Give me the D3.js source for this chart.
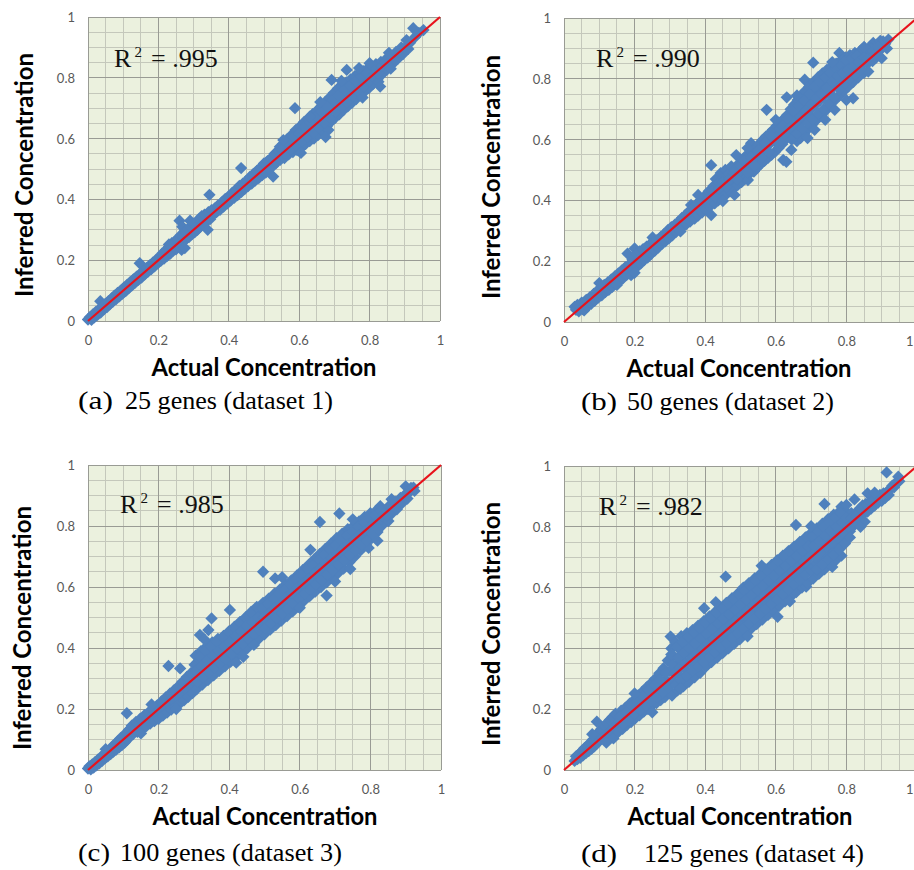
<!DOCTYPE html>
<html><head><meta charset="utf-8">
<script src="https://cdn.jsdelivr.net/npm/d3@7"></script>
<style>html,body{margin:0;padding:0;background:#fff;}svg{display:block;}</style>
</head><body>
<svg id="chart" width="914" height="870"></svg>
<script>
// ---------- DATA ----------
const axisTicks = [0, 0.2, 0.4, 0.6, 0.8, 1];
const tickLabels = ["0", "0.2", "0.4", "0.6", "0.8", "1"];
const r2Values = [".995", ".990", ".985", ".982"];
const panelLetters = ["(a)", "(b)", "(c)", "(d)"];
const captions = ["25 genes (dataset 1)", "50 genes (dataset 2)", "100 genes (dataset 3)", "125 genes (dataset 4)"];
const xTitle = "Actual Concentration";
const yTitle = "Inferred Concentration";

// [actual, inferred]
const dataA = [[0,0.005],[0.005,0.012],[0.01,0.004],[0.014,0.022],[0.018,0.012],[0.022,0.03],[0.027,0.02],[0.031,0.038],[0.035,0.065],[0.036,0.028],[0.04,0.047],[0.045,0.038],[0.049,0.056],[0.054,0.046],[0.058,0.065],[0.062,0.055],[0.067,0.074],[0.071,0.064],[0.075,0.083],[0.08,0.072],[0.084,0.092],[0.089,0.081],[0.093,0.1],[0.098,0.09],[0.102,0.11],[0.107,0.098],[0.111,0.119],[0.116,0.108],[0.12,0.128],[0.125,0.117],[0.129,0.137],[0.134,0.126],[0.138,0.146],[0.143,0.135],[0.147,0.19],[0.148,0.155],[0.152,0.143],[0.157,0.165],[0.161,0.153],[0.166,0.174],[0.17,0.162],[0.175,0.183],[0.18,0.171],[0.184,0.192],[0.189,0.18],[0.193,0.201],[0.198,0.19],[0.202,0.21],
[0.207,0.198],[0.211,0.222],[0.216,0.205],[0.22,0.232],[0.225,0.214],[0.23,0.244],[0.234,0.222],[0.238,0.256],[0.242,0.232],[0.246,0.262],[0.25,0.236],[0.254,0.27],[0.258,0.245],[0.26,0.33],[0.263,0.282],[0.266,0.234],[0.268,0.31],[0.272,0.262],[0.275,0.295],[0.279,0.27],[0.283,0.302],[0.287,0.276],[0.291,0.31],[0.295,0.285],[0.299,0.32],[0.303,0.292],[0.307,0.326],[0.311,0.3],[0.315,0.334],[0.319,0.31],[0.323,0.345],[0.327,0.318],[0.331,0.35],[0.335,0.325],[0.34,0.3],[0.342,0.358],[0.345,0.415],[0.347,0.335],[0.351,0.365],
[0.355,0.348],[0.36,0.37],[0.365,0.358],[0.37,0.381],[0.375,0.366],[0.38,0.39],[0.385,0.376],[0.39,0.402],[0.395,0.386],[0.4,0.41],[0.405,0.396],[0.41,0.422],[0.415,0.405],[0.42,0.432],[0.425,0.414],[0.43,0.444],[0.435,0.503],[0.436,0.425],[0.44,0.452],[0.445,0.434],[0.45,0.462],[0.455,0.444],[0.46,0.474],[0.465,0.452],[0.47,0.484],[0.475,0.462],[0.48,0.494],[0.485,0.47],[0.49,0.505],[0.495,0.48],[0.5,0.518],[0.505,0.488],[0.51,0.526],[0.515,0.5],[0.52,0.536],[0.526,0.475],[0.526,0.51],[0.53,0.55],[0.535,0.52],[0.54,0.56],[0.545,0.573],[0.546,0.53],
[0.55,0.548],[0.554,0.582],[0.558,0.536],[0.562,0.566],[0.566,0.598],[0.57,0.548],[0.574,0.58],[0.578,0.612],[0.582,0.556],[0.586,0.59],[0.588,0.7],[0.59,0.628],[0.594,0.562],[0.598,0.6],[0.602,0.64],[0.606,0.57],[0.61,0.61],[0.614,0.655],[0.618,0.582],[0.622,0.624],[0.626,0.665],[0.63,0.592],[0.634,0.636],[0.638,0.68],[0.642,0.6],[0.646,0.65],[0.65,0.692],[0.654,0.612],[0.658,0.66],[0.662,0.705],[0.666,0.625],[0.67,0.674],[0.674,0.72],[0.678,0.64],[0.682,0.69],[0.683,0.628],[0.686,0.735],[0.69,0.655],[0.692,0.793],[0.694,0.705],[0.698,0.75],[0.702,0.668],[0.706,0.72],[0.71,0.765],[0.714,0.68],[0.718,0.73],[0.722,0.775],[0.726,0.694],[0.73,0.742],[0.734,0.785],[0.735,0.826],[0.738,0.706],[0.742,0.755],[0.746,0.795],[0.75,0.718],[0.754,0.765],[0.758,0.805],[0.762,0.73],[0.766,0.776],[0.77,0.815],[0.774,0.742],[0.778,0.788],[0.782,0.822],[0.786,0.755],[0.79,0.8],[0.794,0.83],[0.798,0.766],[0.802,0.81],
[0.806,0.838],[0.81,0.78],[0.814,0.82],[0.818,0.845],[0.822,0.795],[0.825,0.787],[0.826,0.83],[0.83,0.771],[0.832,0.852],[0.836,0.812],[0.84,0.84],[0.845,0.86],[0.85,0.828],[0.855,0.85],[0.86,0.872],[0.865,0.845],[0.87,0.865],[0.875,0.885],[0.88,0.862],[0.885,0.882],[0.89,0.9],[0.895,0.878],[0.9,0.898],[0.905,0.924],[0.91,0.895],[0.915,0.915],[0.924,0.963],[0.93,0.935],[0.94,0.948],[0.953,0.957]];
const dataAfill = [[0.552,0.565],[0.56,0.552],[0.568,0.585],[0.576,0.565],[0.584,0.605],[0.592,0.578],[0.6,0.618],[0.608,0.59],[0.616,0.638],[0.624,0.606],[0.632,0.652],[0.64,0.62],[0.648,0.672],[0.656,0.636],[0.664,0.688],[0.672,0.652],[0.68,0.705],[0.688,0.668],[0.696,0.728],[0.704,0.688],[0.712,0.742],[0.72,0.705],[0.728,0.76],[0.736,0.72],[0.744,0.775],[0.752,0.74],[0.76,0.79],[0.768,0.755],[0.776,0.805],[0.784,0.772],[0.792,0.815],[0.8,0.79],[0.808,0.805],[0.816,0.835],[0.824,0.815],[0.834,0.838],[0.844,0.85],[0.85,0.845]];
const dataAedge = [[0.23,0.252],[0.275,0.24],[0.29,0.33],[0.555,0.595],[0.605,0.553],[0.63,0.672],[0.66,0.72],[0.675,0.605],[0.77,0.832],[0.78,0.735],[0.8,0.848],[0.86,0.83],[0.855,0.882],[0.72,0.79]];

const dataB = [[0.03,0.05],[0.034,0.04],[0.038,0.056],[0.042,0.035],[0.046,0.052],[0.05,0.064],[0.054,0.042],[0.057,0.038],[0.06,0.058],[0.063,0.073],[0.066,0.05],[0.07,0.066],[0.074,0.082],[0.077,0.06],[0.08,0.076],[0.084,0.092],[0.087,0.07],[0.09,0.085],[0.094,0.102],[0.097,0.08],[0.1,0.095],[0.104,0.112],[0.107,0.088],[0.11,0.104],[0.114,0.122],[0.117,0.098],[0.12,0.113],[0.124,0.13],[0.127,0.106],[0.13,0.122],[0.134,0.14],[0.137,0.116],[0.14,0.132],[0.144,0.15],[0.147,0.125],[0.15,0.142],[0.154,0.16],[0.157,0.134],[0.16,0.152],[0.164,0.17],[0.167,0.144],[0.17,0.16],[0.174,0.18],[0.177,0.154],[0.18,0.225],[0.182,0.17],[0.186,0.19],[0.19,0.154],[0.19,0.176],[0.194,0.205],[0.197,0.17],[0.2,0.242],[0.2,0.19],[0.204,0.225],[0.207,0.182],
[0.21,0.2],[0.214,0.232],[0.217,0.192],[0.22,0.212],[0.224,0.24],[0.227,0.204],[0.23,0.222],[0.234,0.248],[0.237,0.212],[0.24,0.232],[0.244,0.256],[0.247,0.224],[0.251,0.278],[0.25,0.243],[0.254,0.262],[0.257,0.234],[0.26,0.25],[0.264,0.27],[0.267,0.245],[0.27,0.262],[0.274,0.28],[0.277,0.256],[0.28,0.272],[0.284,0.29],[0.287,0.265],[0.29,0.283],[0.294,0.302],[0.297,0.275],[0.3,0.292],[0.304,0.312],[0.307,0.285],[0.31,0.302],[0.314,0.32],[0.317,0.296],[0.32,0.312],[0.324,0.33],[0.327,0.305],[0.33,0.322],[0.334,0.342],[0.337,0.314],[0.34,0.332],[0.344,0.352],[0.347,0.322],[0.35,0.342],[0.354,0.364],[0.357,0.33],[0.36,0.385],[0.362,0.352],[0.366,0.376],[0.37,0.34],[0.373,0.36],[0.377,0.39],[0.38,0.35],[0.384,0.372],[0.388,0.402],[0.391,0.36],[0.395,0.384],[0.399,0.415],[0.402,0.372],
[0.406,0.395],[0.41,0.43],[0.413,0.38],[0.417,0.516],[0.417,0.352],[0.42,0.412],[0.424,0.448],[0.427,0.39],[0.43,0.47],[0.434,0.425],[0.437,0.4],[0.44,0.458],[0.444,0.49],[0.447,0.41],[0.45,0.438],[0.454,0.475],[0.457,0.5],[0.46,0.42],[0.464,0.452],[0.467,0.488],[0.47,0.43],[0.474,0.512],[0.477,0.465],[0.48,0.44],[0.483,0.418],[0.484,0.5],[0.488,0.549],[0.489,0.478],[0.492,0.45],[0.496,0.522],[0.5,0.49],[0.503,0.46],[0.507,0.535],[0.51,0.505],[0.514,0.472],[0.518,0.55],[0.521,0.467],[0.522,0.515],[0.526,0.488],[0.53,0.588],[0.532,0.56],[0.535,0.525],[0.538,0.495],[0.542,0.57],[0.545,0.54],[0.548,0.508],[0.552,0.585],[0.555,0.555],[0.558,0.52],[0.562,0.598],[0.565,0.565],[0.568,0.53],[0.572,0.61],[0.574,0.698],[0.575,0.578],[0.578,0.54],[0.582,0.62],[0.585,0.59],[0.588,0.55],[0.592,0.632],[0.595,0.6],[0.598,0.56],
[0.602,0.645],[0.605,0.612],[0.608,0.572],[0.612,0.655],[0.615,0.622],[0.618,0.585],[0.621,0.533],[0.622,0.668],[0.625,0.635],[0.628,0.6],[0.631,0.739],[0.632,0.68],[0.635,0.65],[0.638,0.61],[0.63,0.527],[0.642,0.7],[0.645,0.665],[0.648,0.625],[0.644,0.566],[0.652,0.715],[0.655,0.68],[0.658,0.64],[0.66,0.595],[0.662,0.73],[0.665,0.695],[0.668,0.655],[0.67,0.605],[0.672,0.745],[0.675,0.71],[0.678,0.67],[0.68,0.62],[0.682,0.797],[0.683,0.76],[0.686,0.725],[0.689,0.685],[0.692,0.635],[0.695,0.775],[0.698,0.74],[0.7,0.7],[0.703,0.65],[0.706,0.853],[0.707,0.79],[0.71,0.755],[0.71,0.632],[0.713,0.715],[0.716,0.665],[0.72,0.805],[0.723,0.77],[0.726,0.73],[0.729,0.68],[0.732,0.818],[0.735,0.785],[0.738,0.745],[0.741,0.695],[0.745,0.83],[0.748,0.8],[0.751,0.76],[0.754,0.71],[0.758,0.84],[0.761,0.812],[0.764,0.775],[0.767,0.698],[0.768,0.73],[0.771,0.85],[0.774,0.825],[0.777,0.79],[0.78,0.885],[0.78,0.745],[0.784,0.86],[0.787,0.835],[0.79,0.8],[0.793,0.76],[0.797,0.87],[0.8,0.845],[0.803,0.81],[0.806,0.775],
[0.81,0.878],[0.813,0.855],[0.816,0.822],[0.819,0.736],[0.82,0.79],[0.824,0.885],[0.827,0.862],[0.83,0.835],[0.834,0.805],[0.838,0.89],[0.841,0.87],[0.843,0.896],[0.845,0.845],[0.85,0.82],[0.853,0.9],[0.856,0.875],[0.86,0.85],[0.862,0.824],[0.866,0.905],[0.87,0.88],[0.874,0.858],[0.876,0.918],[0.88,0.895],[0.884,0.87],[0.888,0.91],[0.892,0.89],[0.896,0.925],[0.9,0.868],[0.902,0.905],[0.904,0.923],[0.91,0.915],[0.915,0.9],[0.919,0.929]];
const dataBfill = [[0.41,0.405],[0.42,0.43],[0.43,0.41],[0.44,0.44],[0.45,0.46],[0.46,0.445],[0.47,0.47],[0.48,0.49],[0.49,0.47],[0.5,0.515],[0.51,0.53],[0.52,0.492],[0.53,0.54],[0.54,0.515],[0.55,0.565],[0.56,0.54],[0.57,0.59],[0.58,0.56],[0.59,0.61],[0.6,0.59],[0.61,0.635],[0.615,0.598],[0.62,0.645],[0.63,0.612],[0.635,0.668],[0.64,0.64],[0.645,0.6],[0.65,0.695],[0.655,0.658],[0.66,0.62],[0.665,0.712],[0.67,0.675],[0.675,0.635],[0.68,0.73],[0.685,0.695],[0.69,0.655],[0.695,0.75],[0.7,0.715],[0.705,0.668],[0.71,0.775],[0.715,0.735],[0.72,0.685],[0.725,0.79],[0.73,0.75],[0.735,0.7],[0.74,0.805],[0.745,0.77],[0.75,0.72],[0.755,0.82],[0.76,0.79],[0.765,0.74],[0.77,0.835],[0.775,0.808],[0.78,0.765],[0.785,0.848],[0.79,0.82],[0.795,0.785],[0.8,0.86],[0.805,0.83],[0.81,0.8],[0.815,0.868],[0.82,0.84],[0.825,0.815],[0.83,0.875],[0.835,0.855],[0.84,0.83],[0.85,0.87],[0.86,0.865],[0.87,0.9],[0.88,0.88],[0.89,0.905]];
const dataBedge = [[0.1,0.128],[0.15,0.122],[0.2,0.162],[0.33,0.298],[0.38,0.418],[0.45,0.398],[0.52,0.572],[0.6,0.665],[0.66,0.745],[0.69,0.605],[0.74,0.665],[0.76,0.855],[0.8,0.73],[0.85,0.905]];

const dataC = [[0,0.005],[0.004,0.012],[0.008,0.002],[0.012,0.018],[0.016,0.008],[0.02,0.026],[0.024,0.015],[0.028,0.034],[0.032,0.022],[0.036,0.042],[0.04,0.03],[0.044,0.05],[0.048,0.038],[0.052,0.058],[0.056,0.045],[0.06,0.066],[0.064,0.052],[0.068,0.076],[0.072,0.06],[0.076,0.085],[0.08,0.067],[0.084,0.094],[0.088,0.074],[0.092,0.104],[0.096,0.082],[0.1,0.11],[0.104,0.09],
[0.108,0.122],[0.11,0.186],[0.112,0.1],[0.116,0.132],[0.12,0.112],[0.124,0.145],[0.128,0.118],[0.132,0.138],[0.136,0.158],[0.14,0.125],[0.144,0.148],[0.148,0.168],[0.152,0.134],[0.156,0.158],[0.16,0.18],[0.164,0.142],[0.168,0.168],[0.172,0.19],[0.176,0.152],[0.18,0.178],[0.184,0.2],[0.188,0.16],[0.192,0.188],[0.196,0.212],[0.2,0.168],[0.204,0.198],[0.208,0.225],[0.212,0.178],[0.216,0.208],[0.22,0.238],[0.224,0.188],[0.228,0.341],[0.228,0.218],[0.232,0.25],[0.236,0.198],[0.24,0.228],[0.244,0.262],[0.248,0.208],[0.252,0.24],[0.256,0.275],[0.26,0.218],[0.261,0.333],[0.264,0.252],[0.268,0.29],[0.272,0.228],[0.276,0.265],[0.28,0.305],[0.284,0.24],[0.288,0.278],[0.292,0.318],[0.296,0.252],[0.3,0.29],
[0.302,0.345],[0.305,0.375],[0.308,0.265],[0.312,0.31],[0.317,0.443],[0.316,0.36],[0.32,0.39],[0.324,0.28],[0.328,0.325],[0.332,0.372],[0.336,0.405],[0.34,0.295],[0.341,0.459],[0.344,0.34],[0.348,0.385],[0.35,0.497],[0.352,0.418],[0.356,0.31],[0.36,0.355],[0.364,0.398],[0.368,0.43],[0.372,0.325],[0.376,0.37],[0.38,0.41],[0.384,0.44],[0.388,0.34],[0.392,0.385],[0.396,0.425],[0.4,0.455],[0.402,0.525],[0.404,0.355],[0.408,0.4],[0.412,0.44],[0.416,0.47],[0.42,0.37],[0.424,0.415],[0.428,0.455],[0.432,0.485],[0.436,0.385],[0.44,0.371],[0.44,0.43],[0.444,0.47],[0.448,0.5],[0.452,0.4],[0.456,0.445],[0.46,0.485],[0.464,0.515],[0.468,0.415],[0.472,0.46],[0.476,0.5],[0.48,0.53],[0.484,0.43],[0.488,0.475],[0.492,0.515],[0.496,0.65],[0.496,0.548],[0.5,0.445],
[0.504,0.49],[0.508,0.53],[0.512,0.562],[0.516,0.46],[0.52,0.505],[0.524,0.545],[0.528,0.578],[0.53,0.628],[0.532,0.475],[0.536,0.52],[0.54,0.56],[0.544,0.592],[0.548,0.49],[0.552,0.535],[0.556,0.575],[0.56,0.608],[0.564,0.505],[0.568,0.55],[0.572,0.59],[0.576,0.622],[0.58,0.52],[0.584,0.565],[0.588,0.605],[0.592,0.638],[0.596,0.535],[0.6,0.58],[0.604,0.62],[0.608,0.655],[0.612,0.555],[0.616,0.6],[0.62,0.64],[0.624,0.672],[0.628,0.57],[0.632,0.615],[0.636,0.655],[0.64,0.69],[0.644,0.585],[0.648,0.63],[0.652,0.672],[0.656,0.708],[0.657,0.813],[0.66,0.6],[0.664,0.645],[0.668,0.688],[0.672,0.725],[0.676,0.572],[0.676,0.615],[0.68,0.66],[0.684,0.705],[0.688,0.742],[0.692,0.63],[0.696,0.675],[0.7,0.72],[0.704,0.76],[0.708,0.645],[0.712,0.841],[0.712,0.69],[0.716,0.735],[0.72,0.775],[0.724,0.66],[0.728,0.705],[0.732,0.75],[0.736,0.79],[0.74,0.68],[0.743,0.659],[0.744,0.722],[0.748,0.765],[0.752,0.8],[0.756,0.7],[0.76,0.74],[0.764,0.78],[0.768,0.815],[0.772,0.72],[0.776,0.755],[0.78,0.795],[0.784,0.83],[0.788,0.74],[0.792,0.77],[0.795,0.728],[0.796,0.808],[0.8,0.842],
[0.804,0.76],[0.808,0.79],[0.812,0.822],[0.816,0.85],[0.82,0.78],[0.824,0.808],[0.828,0.865],[0.828,0.835],[0.832,0.8],[0.836,0.825],[0.84,0.85],[0.845,0.82],[0.851,0.816],[0.85,0.845],[0.855,0.868],[0.86,0.84],[0.865,0.86],[0.87,0.88],[0.875,0.855],[0.88,0.875],[0.885,0.892],[0.89,0.875],[0.895,0.895],[0.9,0.93],[0.9,0.905],[0.905,0.89],[0.91,0.91],[0.915,0.925],[0.922,0.926],[0.925,0.915]];
const dataCfill = [[0.305,0.325],[0.31,0.29],[0.318,0.372],[0.322,0.342],[0.326,0.305],[0.334,0.39],[0.338,0.36],[0.342,0.32],[0.35,0.405],[0.354,0.375],[0.358,0.335],[0.366,0.42],[0.37,0.39],[0.374,0.35],[0.382,0.435],[0.386,0.405],[0.39,0.365],[0.398,0.452],[0.402,0.42],[0.406,0.382],[0.414,0.468],[0.418,0.44],[0.422,0.398],[0.43,0.485],[0.434,0.455],[0.438,0.412],[0.446,0.5],[0.45,0.472],[0.454,0.43],[0.462,0.518],[0.466,0.485],[0.47,0.445],[0.478,0.535],[0.482,0.5],[0.486,0.46],[0.494,0.53],[0.498,0.5],[0.502,0.465],[0.51,0.545],[0.514,0.515],[0.518,0.48],[0.526,0.56],[0.53,0.532],[0.534,0.498],[0.542,0.578],[0.546,0.548],[0.55,0.512],[0.558,0.592],[0.562,0.565],[0.566,0.528],[0.574,0.608],[0.578,0.58],[0.582,0.545],[0.59,0.625],[0.594,0.598],[0.598,0.562],[0.606,0.64],[0.61,0.612],[0.614,0.578],[0.622,0.658],[0.626,0.628],[0.63,0.592],[0.638,0.672],[0.642,0.645],[0.646,0.608],[0.654,0.69],[0.658,0.66],[0.662,0.622],[0.67,0.706],[0.674,0.678],[0.678,0.64],[0.686,0.722],[0.69,0.694],[0.694,0.655],[0.702,0.738],[0.706,0.708],[0.71,0.672],[0.718,0.752],[0.722,0.725],[0.726,0.688],[0.734,0.768],[0.738,0.74],[0.742,0.705],[0.75,0.782],[0.754,0.755],[0.758,0.72],[0.766,0.798],[0.77,0.77],[0.774,0.738],[0.782,0.812],[0.786,0.785],[0.79,0.752],[0.798,0.825],[0.802,0.8],[0.806,0.775],[0.814,0.835],[0.818,0.81],[0.822,0.79],[0.83,0.85],[0.838,0.84],[0.846,0.835]];
const dataCedge = [[0.05,0.068],[0.15,0.12],[0.18,0.215],[0.25,0.2],[0.33,0.428],[0.42,0.352],[0.47,0.41],[0.55,0.632],[0.6,0.532],[0.63,0.722],[0.7,0.618],[0.75,0.822],[0.82,0.752],[0.86,0.888]];

const dataD = [[0.03,0.03],[0.034,0.045],[0.038,0.036],[0.042,0.052],[0.046,0.04],[0.05,0.062],[0.054,0.048],[0.058,0.072],[0.062,0.056],[0.066,0.08],[0.07,0.062],[0.074,0.09],[0.078,0.07],[0.082,0.1],[0.086,0.078],[0.09,0.11],[0.093,0.159],[0.094,0.088],[0.098,0.125],[0.102,0.098],[0.106,0.135],[0.11,0.105],[0.114,0.145],[0.118,0.115],[0.122,0.155],[0.126,0.122],[0.13,0.165],[0.134,0.13],[0.138,0.175],[0.14,0.104],[0.142,0.14],[0.146,0.185],[0.15,0.15],[0.154,0.125],
[0.158,0.162],[0.162,0.195],[0.166,0.135],[0.17,0.17],[0.174,0.205],[0.178,0.148],[0.182,0.182],[0.186,0.218],[0.19,0.158],[0.194,0.195],[0.198,0.23],[0.202,0.17],[0.206,0.208],[0.21,0.245],[0.214,0.18],[0.218,0.22],[0.222,0.258],[0.226,0.192],[0.23,0.232],[0.234,0.272],[0.238,0.2],[0.242,0.245],[0.246,0.285],[0.25,0.212],[0.254,0.258],[0.258,0.3],[0.262,0.22],[0.266,0.268],[0.27,0.318],[0.274,0.23],[0.278,0.28],[0.282,0.335],[0.286,0.24],[0.29,0.295],[0.294,0.36],[0.296,0.26],[0.3,0.325],[0.302,0.439],[0.304,0.4],[0.306,0.245],
[0.31,0.375],[0.312,0.29],[0.316,0.42],[0.318,0.345],[0.322,0.262],[0.326,0.4],[0.328,0.31],[0.332,0.44],[0.334,0.365],[0.338,0.275],[0.342,0.415],[0.344,0.33],[0.348,0.45],[0.35,0.385],[0.354,0.29],[0.358,0.43],[0.36,0.35],[0.364,0.46],[0.366,0.4],[0.37,0.305],[0.374,0.445],[0.376,0.365],[0.38,0.475],[0.382,0.415],[0.386,0.32],[0.39,0.46],[0.392,0.38],[0.396,0.49],[0.397,0.532],[0.398,0.43],[0.402,0.34],[0.406,0.475],[0.408,0.395],[0.412,0.505],[0.414,0.445],[0.418,0.355],[0.422,0.49],[0.424,0.41],[0.428,0.52],[0.43,0.46],[0.434,0.37],[0.438,0.505],[0.44,0.425],[0.444,0.535],[0.446,0.475],[0.45,0.385],[0.454,0.52],[0.456,0.44],[0.458,0.636],[0.46,0.55],[0.462,0.49],[0.466,0.4],[0.47,0.535],[0.472,0.455],[0.476,0.565],[0.478,0.505],[0.482,0.415],[0.486,0.55],[0.488,0.47],[0.492,0.58],[0.494,0.52],[0.498,0.43],
[0.502,0.565],[0.504,0.485],[0.508,0.6],[0.51,0.535],[0.514,0.45],[0.518,0.58],[0.52,0.5],[0.524,0.615],[0.526,0.55],[0.53,0.465],[0.534,0.595],[0.536,0.515],[0.54,0.63],[0.542,0.565],[0.546,0.48],[0.55,0.61],[0.552,0.53],[0.556,0.645],[0.558,0.58],[0.562,0.495],[0.566,0.625],[0.568,0.545],[0.572,0.66],[0.574,0.595],[0.578,0.51],[0.582,0.64],[0.584,0.56],[0.588,0.675],[0.59,0.61],[0.594,0.525],[0.598,0.655],[0.6,0.575],[0.604,0.69],[0.605,0.504],[0.606,0.625],[0.61,0.54],[0.614,0.67],[0.616,0.59],[0.62,0.705],[0.622,0.64],[0.626,0.555],[0.63,0.685],[0.632,0.605],[0.636,0.72],[0.638,0.655],[0.642,0.57],[0.646,0.7],[0.648,0.62],[0.652,0.735],[0.654,0.67],[0.657,0.806],[0.658,0.585],[0.662,0.715],[0.664,0.635],[0.668,0.75],[0.67,0.685],[0.674,0.6],[0.678,0.73],[0.68,0.65],[0.684,0.765],[0.686,0.603],[0.686,0.7],[0.69,0.615],[0.694,0.745],[0.696,0.665],[0.7,0.78],
[0.702,0.715],[0.706,0.63],[0.71,0.76],[0.712,0.68],[0.716,0.795],[0.718,0.73],[0.722,0.645],[0.726,0.775],[0.728,0.695],[0.732,0.81],[0.734,0.745],[0.738,0.875],[0.738,0.66],[0.742,0.79],[0.744,0.71],[0.748,0.825],[0.75,0.76],[0.754,0.675],[0.758,0.805],[0.76,0.725],[0.764,0.84],[0.766,0.775],[0.77,0.69],[0.774,0.82],[0.776,0.74],[0.78,0.85],[0.782,0.79],[0.786,0.866],[0.786,0.705],[0.79,0.83],[0.792,0.755],[0.796,0.805],[0.8,0.85],[0.802,0.77],[0.806,0.82],[0.81,0.785],[0.814,0.845],[0.818,0.8],[0.823,0.89],[0.822,0.825],[0.826,0.815],[0.83,0.85],[0.834,0.83],[0.838,0.86],[0.842,0.835],[0.846,0.87],[0.852,0.817],[0.85,0.85],[0.855,0.875],[0.86,0.91],[0.86,0.85],[0.865,0.88],[0.87,0.86],[0.875,0.89],[0.88,0.87],[0.885,0.895],[0.89,0.88],[0.895,0.905],[0.9,0.885],[0.905,0.91],[0.91,0.895],[0.914,0.979],[0.915,0.915],[0.92,0.905],[0.925,0.925],[0.93,0.935],[0.935,0.93],[0.94,0.945],[0.947,0.965],[0.95,0.95]];
const dataDfill = [[0.16,0.178],[0.168,0.152],[0.176,0.19],[0.184,0.165],[0.192,0.212],[0.2,0.185],[0.208,0.226],[0.216,0.198],[0.224,0.242],[0.232,0.212],[0.24,0.262],[0.248,0.228],[0.256,0.28],[0.264,0.24],[0.272,0.298],[0.28,0.255],[0.288,0.318],[0.296,0.272],
[0.304,0.38],[0.308,0.345],[0.312,0.318],[0.316,0.28],[0.32,0.405],[0.324,0.37],[0.328,0.335],[0.332,0.295],[0.336,0.42],[0.34,0.385],[0.344,0.35],[0.348,0.31],[0.352,0.438],[0.356,0.4],[0.36,0.366],[0.364,0.325],[0.368,0.452],[0.372,0.415],[0.376,0.382],[0.38,0.34],[0.384,0.468],[0.388,0.432],[0.392,0.398],[0.396,0.355],[0.4,0.485],[0.404,0.448],[0.408,0.415],[0.412,0.372],[0.416,0.5],[0.42,0.465],[0.424,0.43],[0.428,0.388],[0.432,0.518],[0.436,0.482],[0.44,0.445],[0.444,0.402],[0.448,0.532],[0.452,0.498],[0.456,0.46],[0.46,0.418],[0.464,0.548],[0.468,0.512],[0.472,0.478],[0.476,0.435],[0.48,0.562],[0.484,0.528],[0.488,0.492],[0.492,0.45],[0.496,0.578],[0.5,0.545],[0.504,0.508],[0.508,0.465],
[0.512,0.59],[0.516,0.56],[0.52,0.522],[0.524,0.482],[0.528,0.606],[0.532,0.576],[0.536,0.54],[0.54,0.498],[0.544,0.622],[0.548,0.592],[0.552,0.555],[0.556,0.514],[0.56,0.638],[0.564,0.608],[0.568,0.572],[0.572,0.53],[0.576,0.655],[0.58,0.624],[0.584,0.588],[0.588,0.546],[0.592,0.67],[0.596,0.64],[0.6,0.603],[0.604,0.562],[0.608,0.686],[0.612,0.656],[0.616,0.62],[0.62,0.578],[0.624,0.702],[0.628,0.672],[0.632,0.636],[0.636,0.594],[0.64,0.718],[0.644,0.688],[0.648,0.652],[0.652,0.61],[0.656,0.734],[0.66,0.704],[0.664,0.668],[0.668,0.626],[0.672,0.75],[0.676,0.72],[0.68,0.684],[0.684,0.642],[0.688,0.766],[0.692,0.736],[0.696,0.7],[0.7,0.658],
[0.704,0.77],[0.708,0.738],[0.712,0.7],[0.716,0.66],[0.72,0.785],[0.724,0.752],[0.728,0.718],[0.732,0.676],[0.736,0.8],[0.74,0.77],[0.744,0.734],[0.748,0.692],[0.752,0.815],[0.756,0.786],[0.76,0.75],[0.764,0.708],[0.768,0.83],[0.772,0.8],[0.776,0.765],[0.78,0.725],[0.784,0.845],[0.788,0.815],[0.792,0.78],[0.796,0.745],[0.8,0.83],[0.805,0.8],[0.81,0.765],[0.815,0.83],[0.82,0.805],[0.828,0.835],[0.836,0.848],[0.844,0.855],[0.852,0.865],[0.86,0.87],[0.87,0.88],[0.88,0.89]];
const dataDedge = [[0.08,0.118],[0.12,0.09],[0.2,0.252],[0.25,0.19],[0.33,0.268],[0.43,0.552],[0.52,0.44],[0.56,0.672],[0.64,0.555],[0.7,0.802],[0.76,0.668],[0.8,0.872],[0.84,0.8],[0.88,0.912]];

const datasets = [dataA.concat(dataAfill, dataAedge), dataB.concat(dataBfill, dataBedge),
                  dataC.concat(dataCfill, dataCedge), dataD.concat(dataDfill, dataDedge)];

// ---------- LAYOUT ----------
const layout = [
  {x0:88,  x1:440, yT:17,  yB:321, yTitleX:33,  yTitleCY:175, xTitleCX:264, r2x:114, r2y:67,  capL:78,  capLW:35, capR:125, capW:208, capY:409},
  {x0:564, x1:917, yT:18,  yB:322, yTitleX:500, yTitleCY:177, xTitleCX:739, r2x:596, r2y:67,  capL:581, capLW:36, capR:627, capW:207, capY:410},
  {x0:88,  x1:441, yT:465, yB:770, yTitleX:31,  yTitleCY:628, xTitleCX:265, r2x:120, r2y:513, capL:78,  capLW:32, capR:120, capW:222, capY:861},
  {x0:564, x1:917, yT:466, yB:770, yTitleX:500, yTitleCY:624, xTitleCX:740, r2x:599, r2y:515, capL:581, capLW:36, capR:644, capW:220, capY:862}
];

const svg = d3.select("#chart");
const W = 914;
const sansFont = "Lato, 'Open Sans', 'DejaVu Sans', sans-serif";
const serifFont = "'Liberation Serif', 'Times New Roman', serif";

function fitText(sel, targetW) {
  const node = sel.node();
  const fs = parseFloat(sel.attr("font-size"));
  const w = node.getComputedTextLength();
  if (w > 0) sel.attr("font-size", (fs * targetW / w).toFixed(2));
  return parseFloat(sel.attr("font-size"));
}

const diamond = d3.symbol().type(d3.symbolSquare).size(76);

layout.forEach((L, i) => {
  const xs = d3.scaleLinear().domain([0, 1]).range([L.x0, L.x1]);
  const ys = d3.scaleLinear().domain([0, 1]).range([L.yB, L.yT]);
  const g = svg.append("g");

  g.append("rect").attr("x", L.x0).attr("y", L.yT)
    .attr("width", L.x1 - L.x0).attr("height", L.yB - L.yT)
    .attr("fill", "#ebf1de");

  const minor = xs.ticks(25);
  g.append("g").selectAll("line").data(minor).join("line")
    .attr("x1", d => xs(d)).attr("x2", d => xs(d)).attr("y1", L.yT).attr("y2", L.yB)
    .attr("stroke", "#c4c8bb").attr("stroke-width", 1).attr("shape-rendering", "crispEdges");
  g.append("g").selectAll("line").data(minor).join("line")
    .attr("y1", d => ys(d)).attr("y2", d => ys(d)).attr("x1", L.x0).attr("x2", L.x1)
    .attr("stroke", "#c4c8bb").attr("stroke-width", 1).attr("shape-rendering", "crispEdges");
  g.append("g").selectAll("line").data(axisTicks).join("line")
    .attr("x1", d => xs(d)).attr("x2", d => xs(d)).attr("y1", L.yT).attr("y2", L.yB)
    .attr("stroke", "#999b94").attr("stroke-width", 1).attr("shape-rendering", "crispEdges");
  g.append("g").selectAll("line").data(axisTicks).join("line")
    .attr("y1", d => ys(d)).attr("y2", d => ys(d)).attr("x1", L.x0).attr("x2", L.x1)
    .attr("stroke", "#999b94").attr("stroke-width", 1).attr("shape-rendering", "crispEdges");

  const xAxis = d3.axisBottom(xs).tickValues(axisTicks).tickFormat((d, k) => tickLabels[k]).tickSize(0).tickPadding(0);
  const xg = g.append("g").attr("transform", `translate(0,${L.yB + 19})`).call(xAxis);
  xg.select(".domain").remove();
  xg.selectAll("text").attr("font-family", sansFont).attr("font-size", 13).attr("fill", "#595959").attr("dy", "0.35em");
  xg.selectAll(".tick").each(function(d) {
    const t = d3.select(this).select("text");
    if (xs(d) + 4 > W) t.attr("text-anchor", "end").attr("x", (W - 1) - xs(d));
  });

  const yAxis = d3.axisLeft(ys).tickValues(axisTicks).tickFormat((d, k) => tickLabels[k]).tickSize(0).tickPadding(0);
  const yg = g.append("g").attr("transform", `translate(${L.x0 - 13},0)`).call(yAxis);
  yg.select(".domain").remove();
  yg.selectAll("text").attr("font-family", sansFont).attr("font-size", 13).attr("fill", "#595959").attr("dy", "0.35em");

  const clipId = "clip" + i;
  svg.append("clipPath").attr("id", clipId).append("rect")
    .attr("x", L.x0 - 6).attr("y", L.yT - 6).attr("width", L.x1 - L.x0 + 12).attr("height", L.yB - L.yT + 12);

  g.append("g").attr("clip-path", `url(#${clipId})`).selectAll("path").data(datasets[i]).join("path")
    .attr("d", diamond)
    .attr("transform", d => `translate(${xs(d[0])},${ys(d[1])}) rotate(45)`)
    .attr("fill", "#4f81bd");

  g.append("line").attr("x1", xs(0)).attr("y1", ys(0)).attr("x2", xs(1)).attr("y2", ys(1))
    .attr("stroke", "#e8121b").attr("stroke-width", 2.2);

  g.append("text").attr("x", L.r2x).attr("y", L.r2y).attr("font-family", serifFont).attr("font-size", 26).attr("fill", "#111").text("R");
  g.append("text").attr("x", L.r2x + 20.5).attr("y", L.r2y - 10.5).attr("font-family", serifFont).attr("font-size", 15).attr("fill", "#111").text("2");
  g.append("text").attr("x", L.r2x + 37).attr("y", L.r2y).attr("font-family", serifFont).attr("font-size", 26).attr("fill", "#111")
    .text("= " + r2Values[i]);

  const xt = g.append("text").attr("x", L.xTitleCX).attr("y", L.yB + 55).attr("text-anchor", "middle")
    .attr("font-family", sansFont).attr("font-weight", "bold").attr("font-size", 20).attr("fill", "#000").text(xTitle);
  fitText(xt, 225);
  const yt = g.append("text").attr("transform", `translate(${L.yTitleX},${L.yTitleCY}) rotate(-90)`).attr("text-anchor", "middle")
    .attr("font-family", sansFont).attr("font-weight", "bold").attr("font-size", 20).attr("fill", "#000").text(yTitle);
  fitText(yt, 244);

  const cap = g.append("text").attr("x", L.capR).attr("y", L.capY).attr("font-family", serifFont).attr("font-size", 26).attr("fill", "#000").text(captions[i]);
  const fs = fitText(cap, L.capW);
  g.append("text").attr("x", L.capL).attr("y", L.capY).attr("font-family", serifFont).attr("font-size", fs).attr("fill", "#000")
    .attr("textLength", L.capLW).attr("lengthAdjust", "spacingAndGlyphs").text(panelLetters[i]);
});
</script>
</body></html>
